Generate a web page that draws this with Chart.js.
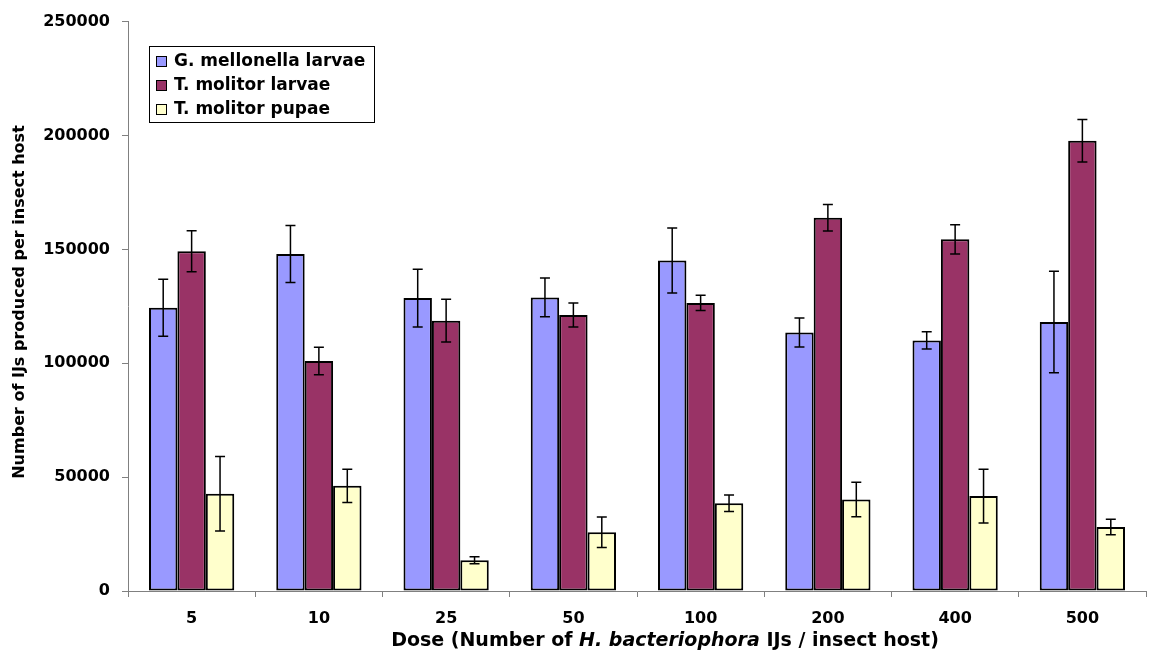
<!DOCTYPE html>
<html>
<head>
<meta charset="utf-8">
<script src="https://cdn.jsdelivr.net/npm/chart.js@4/dist/chart.umd.min.js"></script>
<style>
  html, body { margin: 0; padding: 0; background: #fff; }
  #wrap { width: 1149px; height: 653px; }
</style>
</head>
<body>
<div id="wrap"><canvas id="myChart" width="1149" height="653"></canvas></div>
<script>
// doses on the x axis
var doses = ['5', '10', '25', '50', '100', '200', '400', '500'];

// means
var gMellonellaLarvae = [124400, 148000, 128600, 128900, 145100, 113500, 110000, 118100];
var tMolitorLarvae = [149200, 101000, 118700, 121200, 126500, 163900, 154400, 197700];
var tMolitorPupae = [42700, 46200, 13500, 25800, 38500, 40200, 41700, 28100];

// error bar half-lengths
var gMellonellaLarvaeErr = [12500, 12500, 12700, 8500, 14300, 6400, 3800, 22300];
var tMolitorLarvaeErr = [9000, 6000, 9400, 5300, 3300, 5800, 6400, 9300];
var tMolitorPupaeErr = [16400, 7300, 1500, 6700, 3600, 7600, 11800, 3400];

var yMin = 0;
var yMax = 250000;
var yStep = 50000;

var seriesNames = ['G. mellonella larvae', 'T. molitor larvae', 'T. molitor pupae'];

var FONT = '"DejaVu Sans", sans-serif';
var AXIS_GREY = '#808080';

var makeSet = function (label, data, err, color) {
    return {
        label: label,
        data: data,
        errors: err,
        backgroundColor: color,
        borderColor: '#000000',
        borderWidth: 2,
        borderSkipped: false,
        categoryPercentage: 0.67,
        barPercentage: 1.0
    };
};

// draws the +/- error bars on top of the bars
var errorBars = {
    id: 'errorBars',
    afterDatasetsDraw: function (chart) {
        var ctx = chart.ctx;
        var yScale = chart.scales.y;
        ctx.save();
        ctx.strokeStyle = '#000000';
        ctx.lineWidth = 1.5;
        chart.data.datasets.forEach(function (ds, i) {
            var meta = chart.getDatasetMeta(i);
            meta.data.forEach(function (bar, j) {
                var v = ds.data[j];
                var e = ds.errors[j];
                var top = yScale.getPixelForValue(v + e);
                var bot = yScale.getPixelForValue(v - e);
                var x = bar.x;
                ctx.beginPath();
                ctx.moveTo(x, top); ctx.lineTo(x, bot);
                ctx.moveTo(x - 5, top); ctx.lineTo(x + 5, top);
                ctx.moveTo(x - 5, bot); ctx.lineTo(x + 5, bot);
                ctx.stroke();
            });
        });
        ctx.restore();
    }
};

// legend box inside the plot and the axis titles
var decorations = {
    id: 'decorations',
    afterDraw: function (chart) {
        var ctx = chart.ctx;
        ctx.save();

        // legend
        var bx = 149, by = 46, bw = 225, bh = 76;
        ctx.fillStyle = '#ffffff';
        ctx.fillRect(bx, by, bw, bh);
        ctx.strokeStyle = '#000000';
        ctx.lineWidth = 1;
        ctx.strokeRect(bx + 0.5, by + 0.5, bw, bh);
        ctx.font = 'bold 17px ' + FONT;
        ctx.textBaseline = 'middle';
        ctx.textAlign = 'left';
        chart.data.datasets.forEach(function (ds, i) {
            var cy = 61 + i * 24;
            ctx.fillStyle = ds.backgroundColor;
            ctx.fillRect(156, cy - 5, 11, 11);
            ctx.strokeStyle = '#000000';
            ctx.strokeRect(156.5, cy - 4.5, 10, 10);
            ctx.fillStyle = '#000000';
            ctx.fillText(ds.label, 174, cy + 1);
        });

        // x title with italic species name
        var parts = [
            ['bold 19px ' + FONT, 'Dose (Number of '],
            ['italic bold 19px ' + FONT, 'H. bacteriophora'],
            ['bold 19px ' + FONT, ' IJs / insect host)']
        ];
        var total = 0;
        parts.forEach(function (p) { ctx.font = p[0]; total += ctx.measureText(p[1]).width; });
        var x = 665 - total / 2;
        ctx.textBaseline = 'alphabetic';
        ctx.fillStyle = '#000000';
        parts.forEach(function (p) {
            ctx.font = p[0];
            ctx.fillText(p[1], x, 646);
            x += ctx.measureText(p[1]).width;
        });

        // y title
        ctx.translate(24, 302);
        ctx.rotate(-Math.PI / 2);
        ctx.font = 'bold 16px ' + FONT;
        ctx.textAlign = 'center';
        ctx.fillText('Number of IJs produced per insect host', 0, 0);

        ctx.restore();
    }
};

var ctx = document.getElementById('myChart').getContext('2d');
var chart = new Chart(ctx, {
    type: 'bar',
    data: {
        labels: doses,
        datasets: [
            makeSet(seriesNames[0], gMellonellaLarvae, gMellonellaLarvaeErr, '#9999FF'),
            makeSet(seriesNames[1], tMolitorLarvae, tMolitorLarvaeErr, '#993366'),
            makeSet(seriesNames[2], tMolitorPupae, tMolitorPupaeErr, '#FFFFCC')
        ]
    },
    options: {
        responsive: false,
        animation: false,
        devicePixelRatio: 1,
        layout: { padding: { top: 19, right: 3, left: 0, bottom: 0 } },
        plugins: {
            legend: { display: false },
            tooltip: { enabled: false }
        },
        scales: {
            x: {
                grid: {
                    offset: true,
                    drawOnChartArea: false,
                    drawTicks: true,
                    tickLength: 6,
                    color: AXIS_GREY
                },
                border: { color: AXIS_GREY, width: 1 },
                ticks: {
                    color: '#000000',
                    padding: 12,
                    maxRotation: 0,
                    font: { family: FONT, size: 16, weight: 'bold' }
                },
                afterFit: function (scale) { scale.height = 62; }
            },
            y: {
                min: yMin,
                max: yMax,
                grid: {
                    drawOnChartArea: false,
                    drawTicks: true,
                    tickLength: 6,
                    color: AXIS_GREY
                },
                border: { color: AXIS_GREY, width: 1 },
                ticks: {
                    stepSize: yStep,
                    color: '#000000',
                    padding: 12,
                    font: { family: FONT, size: 16, weight: 'bold' },
                    callback: function (v) { return String(v); }
                },
                afterFit: function (scale) { scale.width = 128; }
            }
        }
    },
    plugins: [errorBars, decorations]
});
</script>
</body>
</html>
